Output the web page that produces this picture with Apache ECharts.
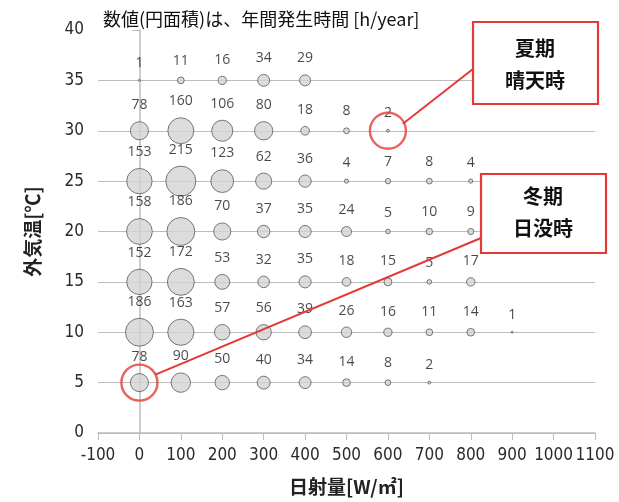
<!DOCTYPE html>
<html>
<head>
<meta charset="utf-8">
<script src="https://cdn.jsdelivr.net/npm/echarts@6/dist/echarts.min.js"></script>
<style>
html,body{margin:0;padding:0;background:#fff;}
#main{width:619px;height:502px;}
</style>
</head>
<body>
<div id="main"></div>
<script>
// 日射量 [W/m2] (x) と 外気温 [℃] (y)
var radiation = [0, 100, 200, 300, 400, 500, 600, 700, 800, 900];
var temps = [35, 30, 25, 20, 15, 10, 5];
// 年間発生時間 [h/year]、外気温ごと（nullは該当なし）
var hours35 = [1, 11, 16, 34, 29, null, null, null, null, null];
var hours30 = [78, 160, 106, 80, 18, 8, 2, null, null, null];
var hours25 = [153, 215, 123, 62, 36, 4, 7, 8, 4, null];
var hours20 = [158, 186, 70, 37, 35, 24, 5, 10, 9, null];
var hours15 = [152, 172, 53, 32, 35, 18, 15, 5, 17, null];
var hours10 = [186, 163, 57, 56, 39, 26, 16, 11, 14, 1];
var hours5 = [78, 90, 50, 40, 34, 14, 8, 2, null, null];
var hoursRows = [hours35, hours30, hours25, hours20, hours15, hours10, hours5];
var xTicks = ['-100', '0', '100', '200', '300', '400', '500', '600', '700', '800', '900', '1000', '1100'];
// 注記の対象点
var summerPoint = [600, 30];
var winterPoint = [0, 5];

var bubbles = [];
for (var r = 0; r < temps.length; r++) {
  for (var c = 0; c < radiation.length; c++) {
    if (hoursRows[r][c] != null) bubbles.push([radiation[c], temps[r], hoursRows[r][c]]);
  }
}

var myChart = echarts.init(document.getElementById('main'));
var axisFont = '"DejaVu Sans Condensed", "Liberation Sans Narrow", sans-serif';
var cjk = '"Noto Sans CJK JP", sans-serif';

var option = {
  animation: false,
  title: {
    text: '数値(円面積)は、年間発生時間 [h/year]',
    left: 98, top: 5,
    textStyle: {fontFamily: cjk, fontSize: 18, fontWeight: 'normal', color: '#111'}
  },
  grid: {left: 98, right: 24, top: 30, bottom: 69},
  xAxis: {
    type: 'value', min: -100, max: 1100, interval: 100,
    name: '日射量[W/㎡]', nameLocation: 'middle', nameGap: 44,
    nameTextStyle: {fontFamily: cjk, fontSize: 19, fontWeight: 'bold', color: '#222'},
    axisLine: {show: true, lineStyle: {color: '#bcbcbc', width: 1.5}},
    axisTick: {show: true, length: 7, lineStyle: {color: '#bcbcbc'}},
    axisLabel: {
      fontFamily: axisFont, fontSize: 17, color: '#2a2a2a', margin: 14,
      formatter: function (v) { return xTicks[Math.round((v + 100) / 100)]; }
    },
    splitLine: {show: false}
  },
  yAxis: {
    type: 'value', min: 0, max: 40, interval: 5,
    name: '外気温[℃]', nameLocation: 'middle', nameGap: 56, nameRotate: 90,
    nameTextStyle: {fontFamily: cjk, fontSize: 19, fontWeight: 'bold', color: '#222'},
    axisLine: {show: true, lineStyle: {color: '#bcbcbc', width: 1.5}},
    axisTick: {show: true, inside: false, length: 7, lineStyle: {color: '#bcbcbc'}},
    axisLabel: {fontFamily: axisFont, fontSize: 17, color: '#2a2a2a', margin: 14},
    splitLine: {show: true, lineStyle: {
      color: ['#bcbcbc', '#bcbcbc', '#bcbcbc', '#bcbcbc', '#bcbcbc', '#bcbcbc', '#bcbcbc', '#bcbcbc', 'rgba(0,0,0,0)'],
      width: 1.2
    }}
  },
  series: [{
    type: 'scatter',
    data: bubbles,
    symbolSize: function (v) { return Math.max(2, 2.05 * Math.sqrt(v[2])); },
    itemStyle: {color: '#d3d3d5', borderColor: '#4a4a4a', borderWidth: 0.9},
    label: {
      show: true, position: 'top', distance: 9,
      formatter: function (p) { return p.value[2]; },
      fontFamily: '"Open Sans", sans-serif', fontSize: 14, color: '#1a1a1a'
    },
    z: 2
  }, {
    type: 'scatter',
    data: [summerPoint, winterPoint],
    symbol: 'circle',
    symbolSize: 36,
    itemStyle: {color: 'rgba(0,0,0,0)', borderColor: '#e53935', borderWidth: 2.4},
    silent: true,
    z: 5
  }]
};
myChart.setOption(option);

// 注記の引出線と枠
var s = myChart.convertToPixel({gridIndex: 0}, summerPoint);
var w = myChart.convertToPixel({gridIndex: 0}, winterPoint);
var red = '#e53935';
var boxText = {fontFamily: cjk, fontSize: 20, fontWeight: 'bold', fill: '#111', lineHeight: 32, align: 'center', verticalAlign: 'middle'};
myChart.setOption({
  graphic: [
    {type: 'line', shape: {x1: s[0] + 15, y1: s[1] - 7, x2: 473, y2: 69}, style: {stroke: red, lineWidth: 2}, z: 10},
    {type: 'line', shape: {x1: w[0] + 16, y1: w[1] - 8, x2: 481, y2: 238}, style: {stroke: red, lineWidth: 2}, z: 10},
    {type: 'rect', shape: {x: 473, y: 22, width: 125, height: 82}, style: {fill: '#fff', stroke: red, lineWidth: 2.2}, z: 11},
    {type: 'text', x: 535, y: 64, style: Object.assign({text: '夏期\n晴天時'}, boxText), z: 12},
    {type: 'rect', shape: {x: 481, y: 174, width: 125, height: 79}, style: {fill: '#fff', stroke: red, lineWidth: 2.2}, z: 11},
    {type: 'text', x: 543, y: 212, style: Object.assign({text: '冬期\n日没時'}, boxText), z: 12}
  ]
});
</script>
</body>
</html>
